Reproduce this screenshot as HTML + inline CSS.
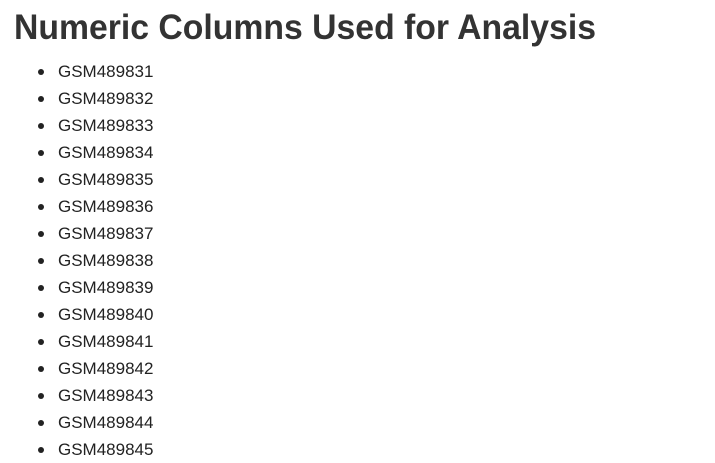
<!DOCTYPE html>
<html>
<head>
<meta charset="utf-8">
<style>
  html, body { margin: 0; padding: 0; background: #fff; width: 715px; height: 463px; overflow: hidden; }
  body { font-family: "Liberation Sans", "DejaVu Sans", sans-serif; color: #212529; position: relative; }
  h1 { position: absolute; left: 14px; top: 6px; margin: 0; font-size: 35px; font-weight: bold; color: #333; white-space: nowrap; transform-origin: 0 0; line-height: 44px; }
  ul { position: absolute; left: 0; top: 58px; margin: 0; padding: 0; list-style: none; }
  li { position: relative; height: 27px; line-height: 27px; font-size: 17px; padding-left: 58px; color: #222; }
  li::before { content: ""; position: absolute; left: 38px; top: 11px; width: 6px; height: 6px; border-radius: 50%; background: #222; }
</style>
</head>
<body>
<h1 id="title">Numeric Columns Used for Analysis</h1>
<ul>
  <li>GSM489831</li>
  <li>GSM489832</li>
  <li>GSM489833</li>
  <li>GSM489834</li>
  <li>GSM489835</li>
  <li>GSM489836</li>
  <li>GSM489837</li>
  <li>GSM489838</li>
  <li>GSM489839</li>
  <li>GSM489840</li>
  <li>GSM489841</li>
  <li>GSM489842</li>
  <li>GSM489843</li>
  <li>GSM489844</li>
  <li>GSM489845</li>
</ul>
<script>
  var t = document.getElementById('title');
  var w = t.getBoundingClientRect().width;
  if (w > 0) t.style.transform = 'scaleX(' + (582 / w) + ')';
</script>
</body>
</html>
